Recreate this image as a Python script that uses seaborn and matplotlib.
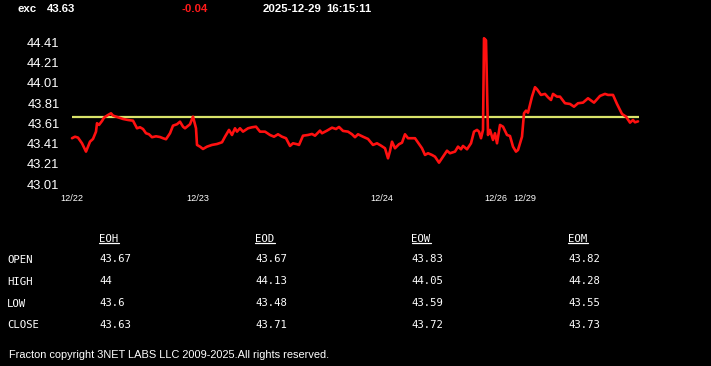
import matplotlib
matplotlib.use("Agg")
import matplotlib.pyplot as plt
from matplotlib.lines import Line2D
import seaborn as sns
import pandas as pd

# ---------------- data ----------------
pos = [0, 3, 6, 10, 14, 18, 21, 24, 25, 27, 30, 32, 36, 39, 41, 46, 51, 56, 61, 65,
       68, 71, 74, 77, 80, 84, 88, 91, 94, 98, 101, 105, 108, 111, 113, 118, 121, 124, 125, 128,
       131, 135, 140, 145, 150, 153, 157, 160, 163, 165, 168, 171, 176, 180, 184, 188, 193, 198, 202, 206,
       210, 214, 218, 221, 225, 227, 231, 236, 240, 243, 248, 250, 255, 260, 264, 267, 271, 276, 280, 283,
       286, 291, 296, 301, 305, 309, 313, 316, 318, 320, 323, 327, 330, 333, 336, 343, 350, 353, 356, 360,
       363, 367, 371, 375, 378, 383, 386, 389, 391, 395, 399, 402, 405, 407, 409, 411, 412, 414, 416, 418,
       421, 423, 425, 428, 431, 435, 438, 441, 444, 446, 450, 452, 454, 456, 460, 463, 465, 469, 473, 476,
       479, 481, 485, 488, 493, 498, 502, 506, 511, 516, 522, 528, 533, 536, 541, 545, 550, 554, 558, 561,
       563, 566]
price = [43.464, 43.479, 43.470, 43.414, 43.332, 43.430, 43.457, 43.529, 43.612, 43.595, 43.634, 43.667, 43.693, 43.710, 43.687, 43.671, 43.654, 43.644, 43.637, 43.562,
         43.572, 43.555, 43.513, 43.503, 43.474, 43.483, 43.476, 43.464, 43.454, 43.513, 43.588, 43.602, 43.627, 43.578, 43.562, 43.602, 43.677, 43.562, 43.398, 43.381,
         43.358, 43.381, 43.398, 43.407, 43.424, 43.479, 43.546, 43.496, 43.562, 43.529, 43.562, 43.529, 43.562, 43.572, 43.578, 43.529, 43.529, 43.496, 43.479, 43.503,
         43.479, 43.464, 43.388, 43.414, 43.405, 43.398, 43.489, 43.496, 43.506, 43.489, 43.539, 43.513, 43.539, 43.568, 43.555, 43.575, 43.536, 43.529, 43.503, 43.474,
         43.503, 43.479, 43.457, 43.398, 43.414, 43.391, 43.365, 43.266, 43.338, 43.430, 43.365, 43.405, 43.420, 43.503, 43.464, 43.464, 43.365, 43.299, 43.316, 43.299,
         43.282, 43.223, 43.282, 43.341, 43.316, 43.332, 43.381, 43.355, 43.388, 43.355, 43.414, 43.529, 43.546, 43.529, 43.464, 43.546, 44.450, 44.430, 43.496, 43.546,
         43.447, 43.513, 43.414, 43.595, 43.578, 43.496, 43.486, 43.381, 43.332, 43.348, 43.479, 43.710, 43.736, 43.716, 43.874, 43.967, 43.947, 43.891, 43.901, 43.868,
         43.841, 43.901, 43.874, 43.874, 43.809, 43.802, 43.775, 43.809, 43.815, 43.858, 43.815, 43.881, 43.901, 43.891, 43.891, 43.802, 43.703, 43.677, 43.618, 43.644,
         43.621, 43.630]
ref_level = 43.67
ytick_vals = [43.01, 43.21, 43.41, 43.61, 43.81, 44.01, 44.21, 44.41]
xtick_pos = [0, 126, 310, 424, 453]
xtick_labels = ["12/22", "12/23", "12/24", "12/26", "12/29"]

symbol = "exc"
last_price = "43.63"
change = "-0.04"
date_str = "2025-12-29"
time_str = "16:15:11"

col_headers = ["EOH", "EOD", "EOW", "EOM"]
row_labels = ["OPEN", "HIGH", "LOW", "CLOSE"]
eoh = ["43.67", "44", "43.6", "43.63"]
eod = ["43.67", "44.13", "43.48", "43.71"]
eow = ["43.83", "44.05", "43.59", "43.72"]
eom = ["43.82", "44.28", "43.55", "43.73"]
footer = "Fracton copyright 3NET LABS LLC 2009-2025.All rights reserved."

# ---------------- figure ----------------
sns.set_style("dark")
W, H = 711, 366
fig = plt.figure(figsize=(W / 100, H / 100), dpi=100, facecolor="black")

sans = ["Liberation Sans", "DejaVu Sans"]
mono = ["DejaVu Sans Mono"]

def fx(px):
    return px / W

def fy(py):
    return 1 - py / H

# axes placement (pixels)
ax_left, ax_right = 72, 639
ax_top, ax_bot = 36.2, 186.3
ax = fig.add_axes([fx(ax_left), fy(ax_bot), (ax_right - ax_left) / W, (ax_bot - ax_top) / H])
ax.set_facecolor("black")

df = pd.DataFrame({"pos": pos, "price": price})
sns.lineplot(data=df, x="pos", y="price", ax=ax, color="#ff1010", linewidth=1.9,
             estimator=None, sort=False, zorder=3)
for l in ax.get_lines():
    l.set_clip_on(False)
ax.axhline(ref_level, color="#d9e36a", linewidth=1.6, zorder=2)

ax.set_xlim(0, 567)
ax.set_ylim(42.99, 44.47)
ax.set_xlabel("")
ax.set_ylabel("")
ax.grid(False)
for s in ax.spines.values():
    s.set_visible(False)

ax.set_yticks(ytick_vals)
ax.set_yticklabels([f"{v:.2f}" for v in ytick_vals], color="white", fontsize=9.3, family=sans)
ax.tick_params(axis="y", length=0, pad=9)

ax.set_xticks(xtick_pos)
ax.set_xticklabels(xtick_labels, color="white", fontsize=6.6, family=sans)
ax.tick_params(axis="x", direction="inout", length=3.2, width=1, color="white", pad=4)

# ---------------- header ----------------
hy = fy(8.5)
hfs = 8.2
fig.text(fx(17), hy, symbol, color="white", fontsize=hfs, fontweight="bold", family=sans, va="center")
fig.text(fx(46.5), hy, last_price, color="white", fontsize=hfs, fontweight="bold", family=sans, va="center")
fig.text(fx(181.5), hy, change, color="#ff1a1a", fontsize=hfs, fontweight="bold", family=sans, va="center")
fig.text(fx(263), hy, date_str, color="white", fontsize=hfs, fontweight="bold", family=sans, va="center")
fig.text(fx(326.5), hy, time_str, color="white", fontsize=hfs, fontweight="bold", family=sans, va="center")

# ---------------- table ----------------
col_x = [99, 255, 411.5, 568]
label_base = [263.3, 285.0, 306.7, 328.5]
value_base = [261.7, 283.5, 305.5, 327.5]
header_base = 241.5
tfs = 7.7
for cx, hdr in zip(col_x, col_headers):
    fig.text(fx(cx), fy(header_base), hdr, color="white", fontsize=tfs, family=mono, va="baseline")
    fig.add_artist(Line2D([fx(cx), fx(cx + 19.5)], [fy(243.2), fy(243.2)], color="white", linewidth=0.9))
for yb, lab in zip(label_base, row_labels):
    fig.text(fx(7), fy(yb), lab, color="white", fontsize=tfs, family=mono, va="baseline")
for cx, col in zip(col_x, [eoh, eod, eow, eom]):
    for yb, v in zip(value_base, col):
        fig.text(fx(cx), fy(yb), v, color="white", fontsize=tfs, family=mono, va="baseline")

fig.text(fx(9), fy(357.7), footer, color="white", fontsize=7.9, family=sans, va="baseline")

fig.savefig("out.png", dpi=100, facecolor="black")
